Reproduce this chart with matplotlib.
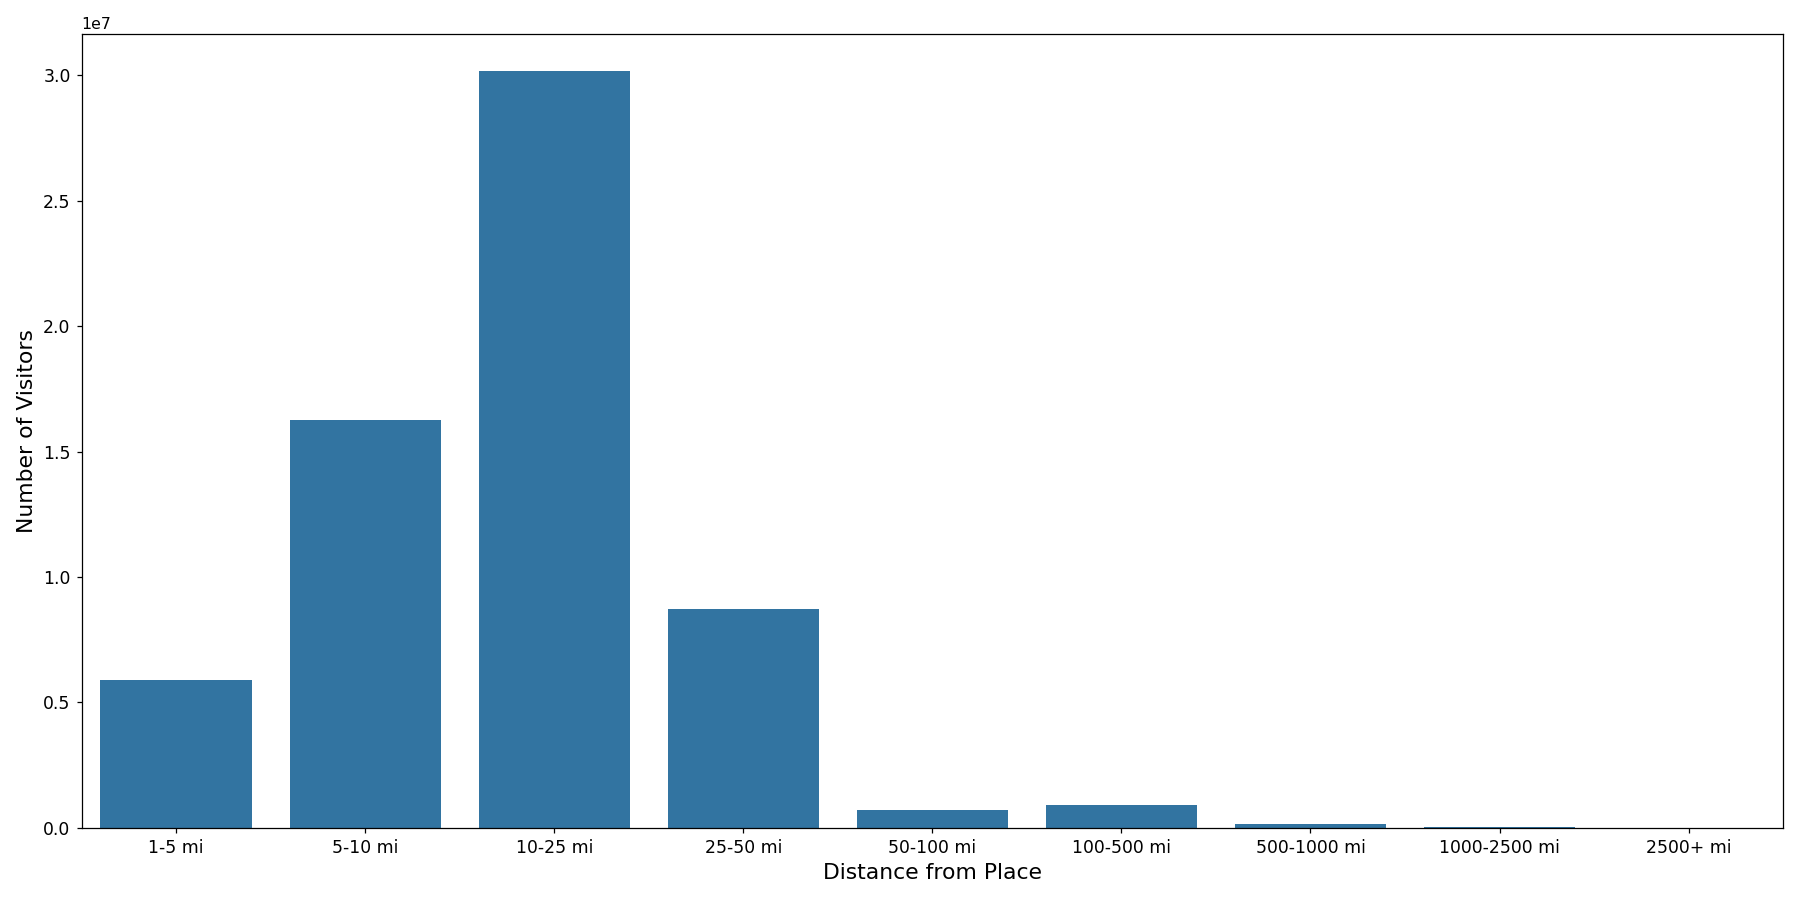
import matplotlib
matplotlib.use("Agg")
import matplotlib.pyplot as plt
import seaborn as sns

categories = ["1-5 mi", "5-10 mi", "10-25 mi", "25-50 mi", "50-100 mi",
              "100-500 mi", "500-1000 mi", "1000-2500 mi", "2500+ mi"]
visitors = [5.89e6, 16.27e6, 30.15e6, 8.71e6, 0.72e6,
            0.91e6, 0.15e6, 0.04e6, 0.01e6]

fig, ax = plt.subplots(figsize=(16, 8), dpi=112.5)
sns.barplot(x=categories, y=visitors, color="#1f77b4", ax=ax)
ax.set_xlabel("Distance from Place", fontsize=14)
ax.set_ylabel("Number of Visitors", fontsize=14)
ax.tick_params(labelsize=11)
plt.tight_layout()
plt.savefig("out.png")
